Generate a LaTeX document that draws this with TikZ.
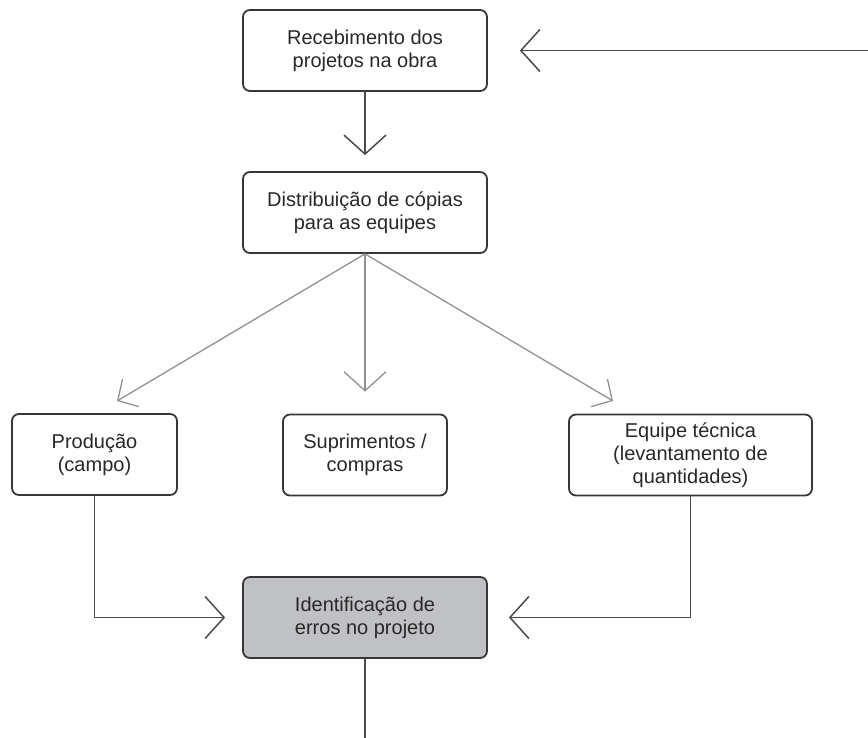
\documentclass[tikz,border=0pt]{standalone}
\usepackage{fontspec}
\setmainfont{Liberation Sans}
\usetikzlibrary{arrows.meta}
\definecolor{linedark}{RGB}{75,75,75}
\definecolor{linelight}{RGB}{145,145,145}
\definecolor{boxborder}{RGB}{55,55,55}
\definecolor{boxgray}{RGB}{192,193,196}
\definecolor{txtcol}{RGB}{40,40,40}
\begin{document}
\begin{tikzpicture}[x=1pt,y=-1pt,
  flowbox/.style={draw=boxborder, line width=1.8pt, rounded corners=7pt, fill=white,
    align=center, font=\fontsize{20}{23}\selectfont, text=txtcol, inner sep=0pt,
    minimum height=81pt},
  darkarrow/.style={draw=linedark, line width=1.5pt, line join=round,
    -{Straight Barb[length=19pt,width=42pt,line width=1.5pt]}},
  darkline/.style={draw=linedark, line width=1.5pt},
  lightarrow/.style={draw=linelight, line width=1.3pt,
    -{Straight Barb[length=15pt,width=32pt,line width=1.3pt]}},
  lightarrowv/.style={draw=linelight, line width=1.3pt,
    -{Straight Barb[length=19pt,width=42pt,line width=1.3pt]}}
]
\useasboundingbox (0,0) rectangle (868,738);

\node[flowbox, minimum width=244pt] (b1) at (365,50.5) {Recebimento dos\\projetos na obra};
\node[flowbox, minimum width=244pt] (b2) at (365,212.5) {Distribuição de cópias\\para as equipes};
\node[flowbox, minimum width=165pt] (p) at (94.5,454.5) {Produção\\(campo)};
\node[flowbox, minimum width=164pt] (s) at (365,455) {Suprimentos /\\compras};
\node[flowbox, minimum width=243pt] (e) at (690.5,455) {Equipe técnica\\(levantamento de\\quantidades)};
\node[flowbox, minimum width=244pt, fill=boxgray] (id) at (365,617.5) {Identificação de\\erros no projeto};

\coordinate (fb) at (868,50.5);
\coordinate (tl) at (117,401);
\coordinate (tr) at (613,401);
\coordinate (bot) at (365,740);

\draw[darkarrow] (fb) -- ([xshift=32pt]b1.east);
\draw[darkarrow] (b1.south) -- ([yshift=16pt]b2.north);
\draw[lightarrow] (b2.south) -- (tl);
\draw[lightarrow] (b2.south) -- (tr);
\draw[lightarrowv] (b2.south) -- ([yshift=22pt]s.north);
\draw[darkarrow] (p.south) |- ([xshift=-17pt]id.west);
\draw[darkarrow] (e.south) |- ([xshift=21pt]id.east);
\draw[darkline] (id.south) -- (bot);
\end{tikzpicture}
\end{document}
